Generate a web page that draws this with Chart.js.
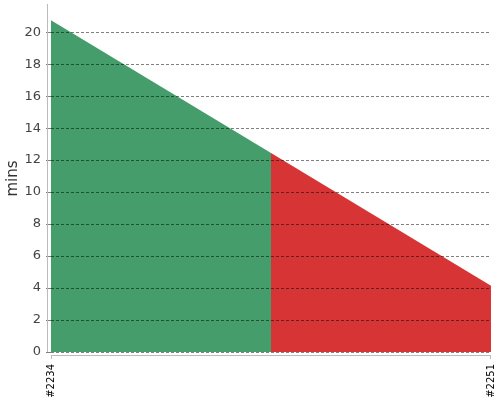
<!DOCTYPE html>
<html>
<head>
<meta charset="utf-8">
<script src="https://cdn.jsdelivr.net/npm/chart.js@4/dist/chart.umd.min.js"></script>
<style>
  html, body { margin: 0; padding: 0; background: #fff; }
  #wrap { width: 500px; height: 400px; }
</style>
</head>
<body>
<div id="wrap"><canvas id="chart"></canvas></div>
<script>
// Build numbers (x) and wait time in minutes (y)
const buildsGood = [2234, 2242.5];
const minsGood = [20.75, 12.45];
const buildsBad = [2242.5, 2251];
const minsBad = [12.45, 4.15];
const xTicks = [2234, 2251];
const yMax = 21.7;

function toPoints(xs, ys){
  return xs.map((x, i) => ({x: x, y: ys[i]}));
}

// Offset axis lines, drawn just outside the plot area
const axisLines = {
  id: 'axisLines',
  afterDraw(chart){
    const {ctx, chartArea} = chart;
    ctx.save();
    ctx.strokeStyle = '#bbb';
    ctx.lineWidth = 1;
    ctx.beginPath();
    ctx.moveTo(chartArea.left - 3.5, chartArea.top - 1);
    ctx.lineTo(chartArea.left - 3.5, chartArea.bottom);
    ctx.moveTo(chartArea.left, chartArea.bottom + 3.5);
    ctx.lineTo(chartArea.right, chartArea.bottom + 3.5);
    ctx.moveTo(chartArea.left + 0.5, chartArea.bottom + 3.5);
    ctx.lineTo(chartArea.left + 0.5, chartArea.bottom + 7);
    ctx.moveTo(chartArea.right - 0.5, chartArea.bottom + 3.5);
    ctx.lineTo(chartArea.right - 0.5, chartArea.bottom + 7);
    ctx.stroke();
    ctx.restore();
  }
};

new Chart(document.getElementById('chart'), {
  type: 'line',
  data: {
    datasets: [{
      data: toPoints(buildsGood, minsGood),
      backgroundColor: '#459d6b',
      borderWidth: 0,
      pointRadius: 0,
      tension: 0,
      fill: 'origin'
    }, {
      data: toPoints(buildsBad, minsBad),
      backgroundColor: '#d73535',
      borderWidth: 0,
      pointRadius: 0,
      tension: 0,
      fill: 'origin'
    }]
  },
  options: {
    responsive: true,
    maintainAspectRatio: false,
    animation: false,
    layout: {padding: {left: 0, right: 9, top: 5, bottom: 0}},
    plugins: {legend: {display: false}, tooltip: {enabled: false}},
    scales: {
      x: {
        type: 'linear',
        min: xTicks[0],
        max: xTicks[xTicks.length - 1],
        afterBuildTicks: axis => { axis.ticks = xTicks.map(v => ({value: v})); },
        afterFit: axis => {
          axis.height = 48;
          axis.paddingLeft = 0;
          axis.paddingRight = 0;
        },
        grid: {display: false, drawTicks: false},
        border: {display: false},
        ticks: {
          autoSkip: false,
          maxRotation: 90,
          minRotation: 90,
          padding: 12,
          color: '#000',
          font: {family: 'DejaVu Sans', size: 10},
          callback: v => '#' + v
        }
      },
      y: {
        min: 0,
        max: yMax,
        afterFit: axis => {
          axis.width = 51;
          axis.paddingTop = 0;
          axis.paddingBottom = 0;
        },
        border: {display: false, dash: [3, 2]},
        grid: {
          z: 1,
          color: 'rgba(0,0,0,0.5)',
          tickLength: 5
        },
        ticks: {
          stepSize: 2,
          padding: 5,
          color: '#444',
          font: {family: 'DejaVu Sans', size: 13},
          callback: v => (v % 2 === 0 ? v : null)
        },
        title: {
          display: true,
          text: 'mins',
          color: '#333',
          padding: {top: 4, bottom: 0},
          font: {family: 'DejaVu Sans', size: 15}
        }
      }
    }
  },
  plugins: [axisLines]
});
</script>
</body>
</html>
